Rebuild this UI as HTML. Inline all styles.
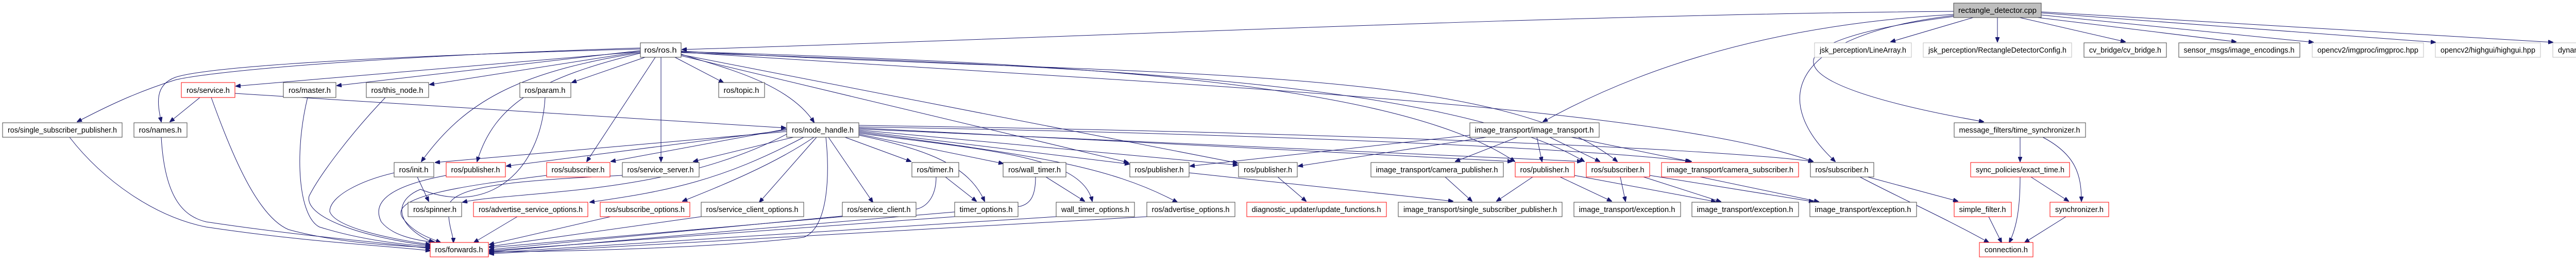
<!DOCTYPE html>
<html><head><meta charset="utf-8"><style>
html,body{margin:0;padding:0;background:#fff}
svg{display:block}
text{font-family:"Liberation Sans",sans-serif;font-size:15px;fill:#000}
.e{fill:none;stroke:#191970;stroke-width:1}
.b{fill:#fff;stroke:#404040;stroke-width:1}
.r{fill:#fff;stroke:#ff0000;stroke-width:1}
.g{fill:#fff;stroke:#bfbfbf;stroke-width:1}
</style></head><body>
<svg width="5171" height="504" viewBox="0 0 5171 504" xmlns="http://www.w3.org/2000/svg">
<defs><marker id="a" markerWidth="10" markerHeight="8" refX="9" refY="4" orient="auto" markerUnits="userSpaceOnUse"><polygon points="0,0 10,4 0,8" fill="#191970" stroke="#191970"/></marker></defs>
<g class="e" marker-end="url(#a)">
<path d="M3792,22 C3000,28 1900,80 1324,96"/>
<path d="M3792,28 C3400,50 3150,150 2995,236"/>
<path d="M3792,30 C3460,70 3440,200 3562,313"/>
<path d="M3792,32 C3420,80 3420,160 3850,236"/>
<path d="M3830,34 L3670,81"/>
<path d="M3877,34 L3877,81"/>
<path d="M3920,34 L4125,81"/>
<path d="M3955,34 L4340,81"/>
<path d="M3962,29 L4490,82"/>
<path d="M3962,25 L4727,82"/>
<path d="M3962,23 L4955,82"/>
<path d="M1243,100 L458,167"/>
<path d="M1243,95 C700,110 400,130 340,150 C300,165 305,200 313,236"/>
<path d="M1243,93 C700,110 400,140 340,155 C260,180 200,210 150,236"/>
<path d="M1243,98 L654,166"/>
<path d="M1243,100 L834,164"/>
<path d="M1252,111 L1110,160"/>
<path d="M1310,111 L1404,160"/>
<path d="M1322,105 C1400,130 1530,160 1580,237"/>
<path d="M1243,102 C1000,140 900,200 818,313"/>
<path d="M1243,103 C1050,150 960,200 926,313"/>
<path d="M1272,111 L1139,313"/>
<path d="M1283,111 L1283,313"/>
<path d="M1322,108 L2190,315"/>
<path d="M1322,106 L2402,316"/>
<path d="M1322,100 C2000,120 2700,150 2940,313"/>
<path d="M1322,102 C2000,125 2800,150 3075,313"/>
<path d="M1322,99 C2200,150 2900,120 3139,313"/>
<path d="M1322,101 C2200,160 3200,200 3519,313"/>
<path d="M1640,266 L1768,313"/>
<path d="M1667,262 C1800,290 1880,320 1911,390"/>
<path d="M1667,260 L1947,317"/>
<path d="M1667,258 C1900,290 2100,300 2120,390"/>
<path d="M2030,343 L2105,390"/>
<path d="M1667,256 C2000,300 2150,320 2285,392"/>
<path d="M1667,254 L2192,318"/>
<path d="M1667,252 L2402,320"/>
<path d="M1608,266 L1694,392"/>
<path d="M1585,266 L1474,392"/>
<path d="M1580,266 C1500,320 1400,360 1325,390"/>
<path d="M1560,266 C1400,350 1300,370 1145,392"/>
<path d="M1527,260 C1300,380 1000,370 898,392"/>
<path d="M1527,255 L845,315"/>
<path d="M1527,252 L983,322"/>
<path d="M1527,250 L1186,313"/>
<path d="M1540,266 L1346,313"/>
<path d="M1667,243 C2500,255 3300,285 3519,313"/>
<path d="M1667,246 C2500,260 3100,290 3283,313"/>
<path d="M1667,248 L2935,313"/>
<path d="M1667,250 L3070,313"/>
<path d="M388,189 L330,236"/>
<path d="M456,181 L1525,248"/>
<path d="M810,343 L832,390"/>
<path d="M2480,343 L2535,390"/>
<path d="M2853,262 L2310,322"/>
<path d="M2885,266 L2520,322"/>
<path d="M2945,266 L2825,313"/>
<path d="M2983,266 L2993,313"/>
<path d="M3008,266 L3105,313"/>
<path d="M3050,266 L3280,313"/>
<path d="M2805,343 L2857,390"/>
<path d="M2975,343 L2905,390"/>
<path d="M2308,335 L2820,390"/>
<path d="M3028,343 L3128,390"/>
<path d="M3056,340 L3330,391"/>
<path d="M3145,343 L3155,390"/>
<path d="M3190,343 L3340,391"/>
<path d="M3202,340 L3520,391"/>
<path d="M3300,343 L3530,391"/>
<path d="M3625,343 L3800,390"/>
<path d="M3610,343 C3700,390 3770,420 3860,470"/>
<path d="M3860,420 L3885,470"/>
<path d="M3921,266 L3921,313"/>
<path d="M3965,266 C4030,300 4040,340 4040,390"/>
<path d="M3921,343 C3921,400 3915,440 3900,470"/>
<path d="M3942,343 L4015,390"/>
<path d="M4010,420 L3930,470"/>
<path d="M135,266 C200,350 300,420 400,440 C600,470 750,476 835,486"/>
<path d="M313,266 C320,390 360,420 400,430 C600,460 750,470 835,482"/>
<path d="M410,189 C450,300 500,420 560,445 C650,470 760,476 835,480"/>
<path d="M597,189 C570,300 580,420 620,440 C700,465 780,474 835,478"/>
<path d="M748,189 C680,260 620,340 600,380 C590,420 700,460 835,476"/>
<path d="M1058,189 C1050,330 950,420 816,367 C760,390 770,440 841,470"/>
<path d="M765,335 C700,350 640,380 640,410 C650,440 750,462 835,474"/>
<path d="M866,340 C760,360 720,390 740,430 C760,455 800,465 845,470"/>
<path d="M1061,340 C900,360 760,380 780,420 C800,450 830,460 855,470"/>
<path d="M1208,340 C1000,350 880,360 870,400 C870,440 880,455 880,470"/>
<path d="M1004,420 L920,470"/>
<path d="M1185,420 L950,474"/>
<path d="M1361,420 L950,478"/>
<path d="M1603,266 C1610,330 1610,440 1560,460 C1400,480 1100,488 950,488"/>
<path d="M1635,420 L950,480"/>
<path d="M1817,343 C1817,380 1800,400 1780,405 L950,484"/>
<path d="M1835,343 L1895,390"/>
<path d="M1853,420 L950,486"/>
<path d="M2010,343 C2010,380 2000,395 1980,400 L950,488"/>
<path d="M2050,420 L950,490"/>
<path d="M2226,420 L950,492"/>
</g>
<g text-anchor="middle" lengthAdjust="spacingAndGlyphs">
<rect x="3792" y="6" width="170" height="28" style="fill:#bfbfbf;stroke:#404040"/><text x="3877" y="25" textLength="152" lengthAdjust="spacingAndGlyphs">rectangle_detector.cpp</text>
<rect class="b" x="1243" y="83" width="79" height="28"/><text x="1282" y="102" textLength="63" lengthAdjust="spacingAndGlyphs">ros/ros.h</text>
<rect class="g" x="3522" y="83" width="188" height="28"/><text x="3616" y="102" textLength="168" lengthAdjust="spacingAndGlyphs">jsk_perception/LineArray.h</text>
<rect class="g" x="3733" y="83" width="288" height="28"/><text x="3877" y="102" textLength="268" lengthAdjust="spacingAndGlyphs">jsk_perception/RectangleDetectorConfig.h</text>
<rect class="b" x="4045" y="83" width="160" height="28"/><text x="4125" y="102" textLength="140" lengthAdjust="spacingAndGlyphs">cv_bridge/cv_bridge.h</text>
<rect class="b" x="4229" y="83" width="235" height="28"/><text x="4346" y="102" textLength="215" lengthAdjust="spacingAndGlyphs">sensor_msgs/image_encodings.h</text>
<rect class="g" x="4488" y="83" width="216" height="28"/><text x="4596" y="102" textLength="196" lengthAdjust="spacingAndGlyphs">opencv2/imgproc/imgproc.hpp</text>
<rect class="g" x="4727" y="83" width="204" height="28"/><text x="4829" y="102" textLength="184" lengthAdjust="spacingAndGlyphs">opencv2/highgui/highgui.hpp</text>
<rect class="g" x="4955" y="83" width="210" height="28"/><text x="5060" y="102" textLength="190" lengthAdjust="spacingAndGlyphs">dynamic_reconfigure/server.h</text>
<rect class="r" x="352" y="160" width="104" height="29"/><text x="404" y="180" textLength="84" lengthAdjust="spacingAndGlyphs">ros/service.h</text>
<rect class="b" x="550" y="160" width="102" height="29"/><text x="601" y="180" textLength="82" lengthAdjust="spacingAndGlyphs">ros/master.h</text>
<rect class="b" x="711" y="160" width="121" height="29"/><text x="771" y="180" textLength="101" lengthAdjust="spacingAndGlyphs">ros/this_node.h</text>
<rect class="b" x="1009" y="160" width="99" height="29"/><text x="1058" y="180" textLength="79" lengthAdjust="spacingAndGlyphs">ros/param.h</text>
<rect class="b" x="1395" y="160" width="89" height="29"/><text x="1439" y="180" textLength="69" lengthAdjust="spacingAndGlyphs">ros/topic.h</text>
<rect class="b" x="5" y="238" width="232" height="28"/><text x="121" y="257" textLength="212" lengthAdjust="spacingAndGlyphs">ros/single_subscriber_publisher.h</text>
<rect class="b" x="260" y="238" width="103" height="28"/><text x="311" y="257" textLength="83" lengthAdjust="spacingAndGlyphs">ros/names.h</text>
<rect class="b" x="1527" y="238" width="140" height="28"/><text x="1597" y="257" textLength="120" lengthAdjust="spacingAndGlyphs">ros/node_handle.h</text>
<rect class="b" x="2853" y="238" width="251" height="28"/><text x="2978" y="257" textLength="231" lengthAdjust="spacingAndGlyphs">image_transport/image_transport.h</text>
<rect class="b" x="3793" y="238" width="255" height="28"/><text x="3920" y="257" textLength="235" lengthAdjust="spacingAndGlyphs">message_filters/time_synchronizer.h</text>
<rect class="b" x="765" y="315" width="77" height="28"/><text x="803" y="334" textLength="57" lengthAdjust="spacingAndGlyphs">ros/init.h</text>
<rect class="r" x="866" y="315" width="115" height="28"/><text x="923" y="334" textLength="95" lengthAdjust="spacingAndGlyphs">ros/publisher.h</text>
<rect class="r" x="1061" y="315" width="123" height="28"/><text x="1122" y="334" textLength="103" lengthAdjust="spacingAndGlyphs">ros/subscriber.h</text>
<rect class="b" x="1208" y="315" width="149" height="28"/><text x="1282" y="334" textLength="129" lengthAdjust="spacingAndGlyphs">ros/service_server.h</text>
<rect class="b" x="1770" y="315" width="91" height="28"/><text x="1815" y="334" textLength="71" lengthAdjust="spacingAndGlyphs">ros/timer.h</text>
<rect class="b" x="1947" y="315" width="122" height="28"/><text x="2008" y="334" textLength="102" lengthAdjust="spacingAndGlyphs">ros/wall_timer.h</text>
<rect class="b" x="2193" y="315" width="115" height="28"/><text x="2250" y="334" textLength="95" lengthAdjust="spacingAndGlyphs">ros/publisher.h</text>
<rect class="b" x="2404" y="315" width="114" height="28"/><text x="2461" y="334" textLength="94" lengthAdjust="spacingAndGlyphs">ros/publisher.h</text>
<rect class="b" x="2661" y="315" width="257" height="28"/><text x="2789" y="334" textLength="237" lengthAdjust="spacingAndGlyphs">image_transport/camera_publisher.h</text>
<rect class="r" x="2941" y="315" width="115" height="28"/><text x="2998" y="334" textLength="95" lengthAdjust="spacingAndGlyphs">ros/publisher.h</text>
<rect class="r" x="3079" y="315" width="123" height="28"/><text x="3140" y="334" textLength="103" lengthAdjust="spacingAndGlyphs">ros/subscriber.h</text>
<rect class="r" x="3225" y="315" width="266" height="28"/><text x="3358" y="334" textLength="246" lengthAdjust="spacingAndGlyphs">image_transport/camera_subscriber.h</text>
<rect class="b" x="3514" y="315" width="123" height="28"/><text x="3575" y="334" textLength="103" lengthAdjust="spacingAndGlyphs">ros/subscriber.h</text>
<rect class="r" x="3825" y="315" width="192" height="28"/><text x="3921" y="334" textLength="172" lengthAdjust="spacingAndGlyphs">sync_policies/exact_time.h</text>
<rect class="b" x="792" y="392" width="104" height="28"/><text x="844" y="411" textLength="84" lengthAdjust="spacingAndGlyphs">ros/spinner.h</text>
<rect class="r" x="919" y="392" width="222" height="28"/><text x="1030" y="411" textLength="202" lengthAdjust="spacingAndGlyphs">ros/advertise_service_options.h</text>
<rect class="r" x="1165" y="392" width="174" height="28"/><text x="1252" y="411" textLength="154" lengthAdjust="spacingAndGlyphs">ros/subscribe_options.h</text>
<rect class="b" x="1361" y="392" width="199" height="28"/><text x="1460" y="411" textLength="179" lengthAdjust="spacingAndGlyphs">ros/service_client_options.h</text>
<rect class="b" x="1635" y="392" width="143" height="28"/><text x="1706" y="411" textLength="123" lengthAdjust="spacingAndGlyphs">ros/service_client.h</text>
<rect class="b" x="1853" y="392" width="123" height="28"/><text x="1914" y="411" textLength="103" lengthAdjust="spacingAndGlyphs">timer_options.h</text>
<rect class="b" x="2050" y="392" width="152" height="28"/><text x="2126" y="411" textLength="132" lengthAdjust="spacingAndGlyphs">wall_timer_options.h</text>
<rect class="b" x="2226" y="392" width="171" height="28"/><text x="2311" y="411" textLength="151" lengthAdjust="spacingAndGlyphs">ros/advertise_options.h</text>
<rect class="r" x="2420" y="392" width="271" height="28"/><text x="2555" y="411" textLength="251" lengthAdjust="spacingAndGlyphs">diagnostic_updater/update_functions.h</text>
<rect class="b" x="2714" y="392" width="318" height="28"/><text x="2873" y="411" textLength="298" lengthAdjust="spacingAndGlyphs">image_transport/single_subscriber_publisher.h</text>
<rect class="b" x="3055" y="392" width="207" height="28"/><text x="3158" y="411" textLength="187" lengthAdjust="spacingAndGlyphs">image_transport/exception.h</text>
<rect class="b" x="3284" y="392" width="207" height="28"/><text x="3387" y="411" textLength="187" lengthAdjust="spacingAndGlyphs">image_transport/exception.h</text>
<rect class="b" x="3513" y="392" width="207" height="28"/><text x="3616" y="411" textLength="187" lengthAdjust="spacingAndGlyphs">image_transport/exception.h</text>
<rect class="r" x="3793" y="392" width="111" height="28"/><text x="3848" y="411" textLength="91" lengthAdjust="spacingAndGlyphs">simple_filter.h</text>
<rect class="r" x="3979" y="392" width="114" height="28"/><text x="4036" y="411" textLength="94" lengthAdjust="spacingAndGlyphs">synchronizer.h</text>
<rect class="r" x="835" y="470" width="113" height="28"/><text x="891" y="489" textLength="93" lengthAdjust="spacingAndGlyphs">ros/forwards.h</text>
<rect class="r" x="3842" y="470" width="104" height="28"/><text x="3894" y="489" textLength="84" lengthAdjust="spacingAndGlyphs">connection.h</text>
</g>
</svg>
</body></html>
